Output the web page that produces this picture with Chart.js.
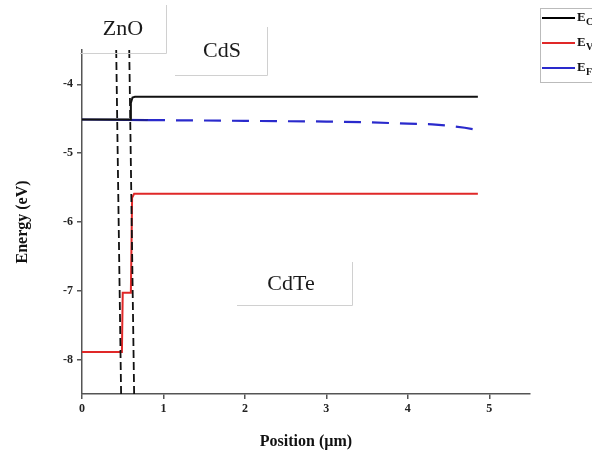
<!DOCTYPE html>
<html>
<head>
<meta charset="utf-8">
<script src="https://cdn.jsdelivr.net/npm/chart.js@4.4.1/dist/chart.umd.min.js"></script>
<style>
  html, body { margin: 0; padding: 0; background: #fff; }
  #wrap { width: 592px; height: 457px; }
</style>
</head>
<body>
<div id="wrap"><canvas id="bandChart"></canvas></div>
<script>
// --- Data ---
const xTicks = [0, 1, 2, 3, 4, 5];
const yTicks = [-8, -7, -6, -5, -4];

const ecX = [0, 0.59, 0.60, 0.62, 0.65, 4.86];
const ecY = [-4.51, -4.51, -4.27, -4.19, -4.18, -4.18];

const evX = [0, 0.49, 0.50, 0.60, 0.615, 0.64, 4.86];
const evY = [-7.89, -7.89, -7.03, -7.03, -5.65, -5.59, -5.59];

const efX = [0, 0.81, 1, 2, 3, 3.5, 4, 4.3, 4.5, 4.7, 4.8, 4.87];
const efY = [-4.51, -4.52, -4.52, -4.53, -4.54, -4.55, -4.57, -4.58, -4.60, -4.63, -4.65, -4.68];

// interface markers (slightly slanted dashed lines)
const ifaceA = { x: [0.42, 0.48], y: [-3.5, -8.5] };
const ifaceB = { x: [0.58, 0.64], y: [-3.5, -8.5] };

const layerLabels = ['ZnO', 'CdS', 'CdTe'];
const legendNames = ['C', 'V', 'F'];

function pts(xs, ys) {
    return xs.map((x, i) => ({ x: x, y: ys[i] }));
}

const serif = "'Liberation Serif', 'DejaVu Serif', serif";

// --- Annotation boxes and the clipped legend in the top-right corner ---
const decorations = {
    id: 'decorations',
    afterDraw(chart) {
        const c = chart.ctx;
        c.save();
        // layer label boxes (light grey right/bottom border)
        const boxes = [
            { t: layerLabels[0], l: 80, tp: 5, r: 166, b: 53, cx: 123, cy: 29 },
            { t: layerLabels[1], l: 175, tp: 27, r: 267, b: 75, cx: 222, cy: 51 },
            { t: layerLabels[2], l: 237, tp: 262, r: 352, b: 305, cx: 291, cy: 284 }
        ];
        boxes.forEach(bx => {
            c.strokeStyle = '#d0d0d0';
            c.lineWidth = 1;
            c.beginPath();
            c.moveTo(bx.r + 0.5, bx.tp);
            c.lineTo(bx.r + 0.5, bx.b + 0.5);
            c.lineTo(bx.l, bx.b + 0.5);
            c.stroke();
            c.fillStyle = '#1a1a1a';
            c.font = '22px ' + serif;
            c.textAlign = 'center';
            c.textBaseline = 'middle';
            c.fillText(bx.t, bx.cx, bx.cy);
        });

        // legend
        c.strokeStyle = '#bbbbbb';
        c.lineWidth = 1;
        c.strokeRect(540.5, 8.5, 80, 74);
        const cols = ['#000000', '#e02828', '#2a2acc'];
        cols.forEach((col, i) => {
            const y = 18 + i * 25;
            c.strokeStyle = col;
            c.lineWidth = 2;
            c.beginPath();
            c.moveTo(542, y);
            c.lineTo(575, y);
            c.stroke();
            c.fillStyle = '#111';
            c.font = 'bold 13px ' + serif;
            c.textAlign = 'left';
            c.textBaseline = 'middle';
            c.fillText('E', 577, y);
            c.font = 'bold 10px ' + serif;
            c.fillText(legendNames[i], 586, y + 4);
        });
        c.restore();
    }
};

const ctx = document.getElementById('bandChart').getContext('2d');
const bandChart = new Chart(ctx, {
    type: 'scatter',
    data: {
        datasets: [
            {
                label: 'iface1',
                data: pts(ifaceA.x, ifaceA.y),
                showLine: true,
                borderColor: '#111',
                borderWidth: 1.8,
                borderDash: [8, 4],
                pointRadius: 0
            },
            {
                label: 'iface2',
                data: pts(ifaceB.x, ifaceB.y),
                showLine: true,
                borderColor: '#111',
                borderWidth: 1.8,
                borderDash: [8, 4],
                pointRadius: 0
            },
            {
                label: 'Ec',
                data: pts(ecX, ecY),
                showLine: true,
                borderColor: '#111',
                borderWidth: 2,
                pointRadius: 0
            },
            {
                label: 'Ev',
                data: pts(evX, evY),
                showLine: true,
                borderColor: '#e02828',
                borderWidth: 2,
                pointRadius: 0
            },
            {
                label: 'Ef',
                data: pts(efX, efY),
                showLine: true,
                borderColor: '#2a2acc',
                borderWidth: 2.2,
                pointRadius: 0,
                segment: {
                    // solid through ZnO, dashed afterwards
                    borderDash: s => s.p0DataIndex === 0 ? [] : [17, 11],
                    borderColor: s => s.p0DataIndex === 0 ? '#1f1f9a' : '#2a2acc'
                }
            }
        ]
    },
    options: {
        responsive: true,
        maintainAspectRatio: false,
        animation: false,
        layout: { padding: { top: 50, right: 62, left: 0, bottom: 0 } },
        plugins: {
            legend: { display: false },
            tooltip: { enabled: false }
        },
        scales: {
            x: {
                type: 'linear',
                min: 0,
                max: 5.5,
                afterFit: s => { s.height = 63; },
                afterBuildTicks: s => { s.ticks = xTicks.map(v => ({ value: v })); },
                border: { color: '#555', width: 1.5 },
                grid: { drawOnChartArea: false, color: '#555', lineWidth: 1.5, tickLength: 5 },
                ticks: {
                    color: '#222',
                    padding: 3,
                    font: { family: serif, size: 12, weight: 'bold' }
                },
                title: {
                    display: true,
                    text: 'Position (µm)',
                    color: '#111',
                    padding: { top: 8, bottom: 6 },
                    font: { family: serif, size: 16, weight: 'bold' }
                }
            },
            y: {
                type: 'linear',
                min: -8.5,
                max: -3.5,
                afterFit: s => { s.width = 82; },
                afterBuildTicks: s => { s.ticks = yTicks.map(v => ({ value: v })); },
                border: { color: '#555', width: 1.5 },
                grid: { drawOnChartArea: false, color: '#555', lineWidth: 1.5, tickLength: 5 },
                ticks: {
                    color: '#222',
                    padding: 4,
                    font: { family: serif, size: 12, weight: 'bold' }
                },
                title: {
                    display: true,
                    text: 'Energy (eV)',
                    color: '#111',
                    padding: { top: 13, bottom: 0 },
                    font: { family: serif, size: 16, weight: 'bold' }
                }
            }
        }
    },
    plugins: [decorations]
});
</script>
</body>
</html>
